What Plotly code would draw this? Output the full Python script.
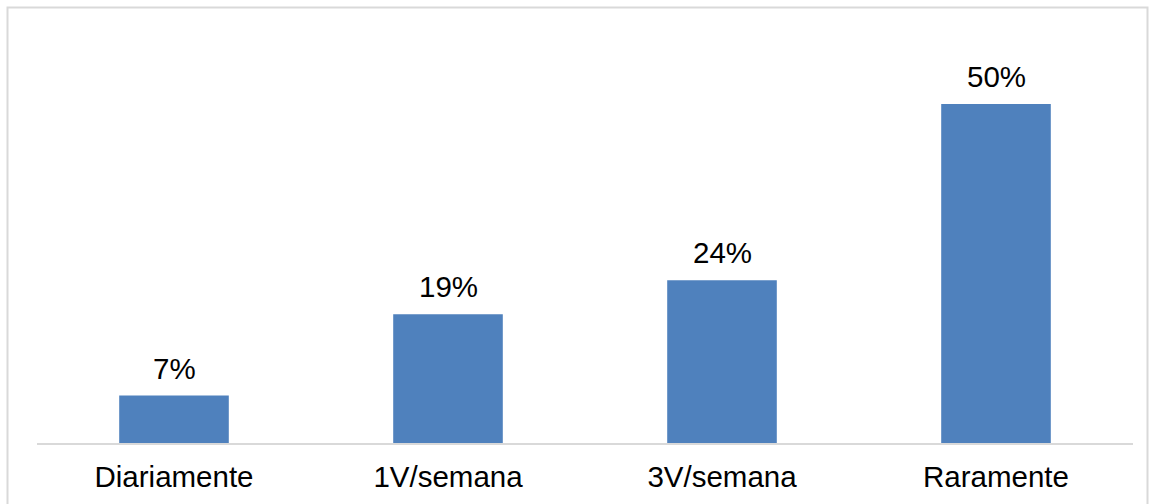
import plotly.graph_objects as go

# Frequency categories and their shares (%)
categories = ["Diariamente", "1V/semana", "3V/semana", "Raramente"]
values = [7, 19, 24, 50]
labels = [f"{v}%" for v in values]

W, H = 1155, 504
ml, mr, mt, mb = 37, 22, 20, 61
pw, ph = W - ml - mr, H - mt - mb
FONT = "Liberation Sans, Arial, sans-serif"
FS = 29.5

fig = go.Figure(
    go.Bar(
        x=categories,
        y=values,
        marker=dict(color="#4F81BD", line=dict(width=0)),
        hoverinfo="skip",
    )
)

# Value labels above each bar
for c, v, t in zip(categories, values, labels):
    fig.add_annotation(
        x=c, y=v, text=t, showarrow=False, yanchor="bottom", yshift=9,
        font=dict(family=FONT, size=FS, color="#000000"),
    )

# Outer frame around the chart area
def px_x(p):
    return (p - ml) / pw

def px_y(p):
    return (H - mb - p) / ph

fig.add_shape(
    type="rect", xref="paper", yref="paper",
    x0=px_x(7.5), x1=px_x(1147.5), y0=px_y(530), y1=px_y(7.5),
    line=dict(color="#D9D9D9", width=2), fillcolor="rgba(0,0,0,0)", layer="below",
)

fig.update_layout(
    width=W, height=H,
    margin=dict(l=ml, r=mr, t=mt, b=mb),
    paper_bgcolor="white", plot_bgcolor="white",
    bargap=0.6,
    showlegend=False,
    font=dict(family=FONT, size=FS, color="#000000"),
    xaxis=dict(
        showline=True, linecolor="#D9D9D9", linewidth=2,
        ticks="", showgrid=False, zeroline=False,
        tickfont=dict(family=FONT, size=FS, color="#000000"),
        ticklabelstandoff=7,
    ),
    yaxis=dict(
        range=[0, 62.4], visible=False, showgrid=False, zeroline=False,
    ),
)

fig.write_html("out.html")
